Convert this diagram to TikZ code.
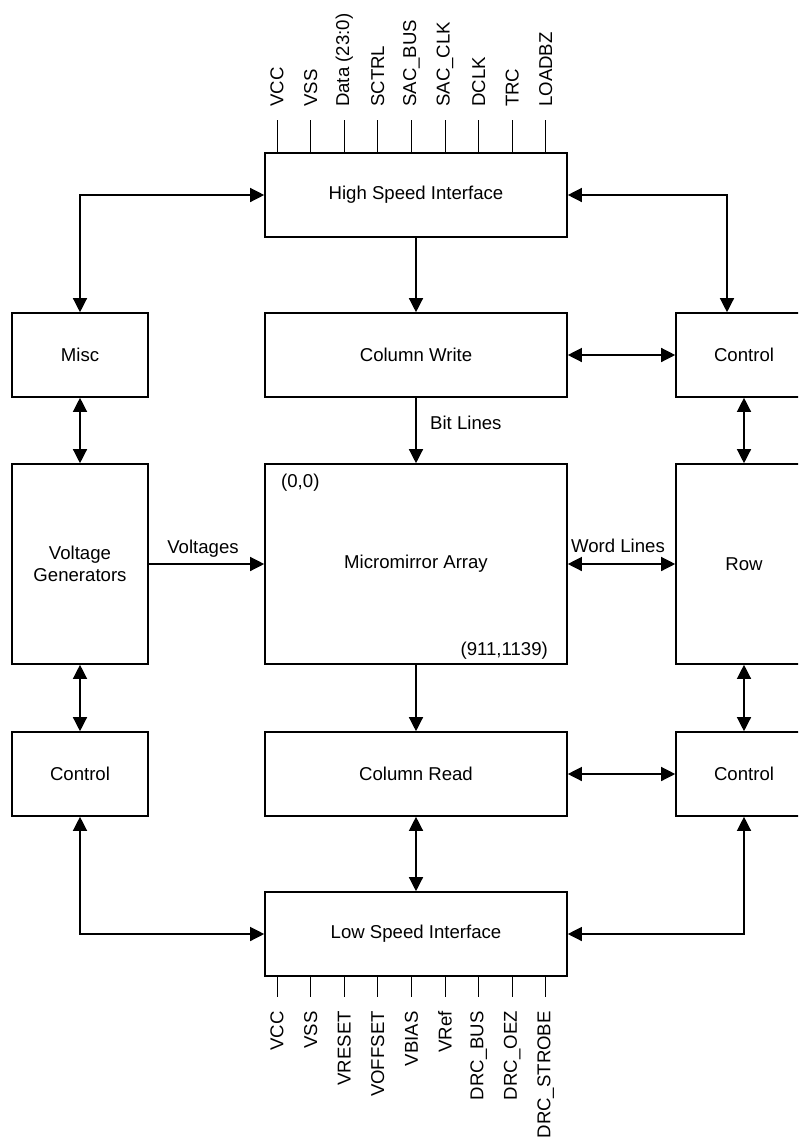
\documentclass[tikz,border=0pt]{standalone}
\usepackage{fontspec}
\setmainfont{Liberation Sans}
\usetikzlibrary{arrows.meta,calc}
\begin{document}
\begin{tikzpicture}[x=1pt,y=1pt,
  every node/.style={font=\fontsize{18.6pt}{22.3pt}\selectfont},
  box/.style={draw, line width=1.6pt, minimum width=302pt, minimum height=84pt, inner sep=0pt, align=center},
  sbox/.style={draw, line width=1.6pt, minimum width=136pt, minimum height=84pt, inner sep=0pt, align=center},
  conn/.style={line width=1.3pt},
  pinline/.style={line width=0.9pt},
  pinlbl/.style={rotate=90, inner sep=0pt},
  lbl/.style={inner sep=0pt},
  >={Triangle[length=14pt,width=14pt]}
]
\useasboundingbox (0,0) rectangle (798,-1138);
\clip (0,0) rectangle (798,-1138);

% main column
\node[box] (hsi) at (416,-195) {High Speed Interface};
\node[box] (cw) at (416,-355) {Column Write};
\node[box, minimum height=200pt] (ma) at (416,-564) {Micromirror Array};
\node[box] (cr) at (416,-774) {Column Read};
\node[box] (lsi) at (416,-934) {Low Speed Interface};
% left column
\node[sbox] (misc) at (80,-355) {Misc};
\node[sbox, minimum height=200pt] (vg) at (80,-564) {Voltage\\Generators};
\node[sbox] (cl) at (80,-774) {Control};
% right column
\node[sbox] (crt) at (744,-355) {Control};
\node[sbox, minimum height=200pt] (row) at (744,-564) {Row};
\node[sbox] (crb) at (744,-774) {Control};

% connectors
\draw[conn,<->] (hsi.west) -| (misc.north);
\coordinate (crtin) at ($(crt.north)+(-17,0)$);
\draw[conn,<->] (hsi.east) -| (crtin);
\draw[conn,->] (hsi) -- (cw);
\draw[conn,<->] (cw) -- (crt);
\draw[conn,->] (cw) -- (ma);
\draw[conn,<->] (misc) -- (vg);
\draw[conn,->] (vg) -- (ma);
\draw[conn,<->] (ma) -- (row);
\draw[conn,<->] (crt) -- (row);
\draw[conn,->] (ma) -- (cr);
\draw[conn,<->] (vg) -- (cl);
\draw[conn,<->] (row) -- (crb);
\draw[conn,<->] (cr) -- (crb);
\draw[conn,<->] (cr) -- (lsi);
\draw[conn,<->] (cl.south) |- (lsi.west);
\draw[conn,<->] (crb.south) |- (lsi.east);

% labels
\node[lbl, anchor=base west] (bitl) at (430,-429) {Bit Lines};
\node[lbl, anchor=base] (volt) at (203,-553) {Voltages};
\node[lbl, anchor=base] (wordl) at (618,-552) {Word Lines};
\node[lbl, anchor=base west] (orig) at (281,-487) {(0,0)};
\node[lbl, anchor=base east] (endc) at (548,-655) {(911,1139)};

% top pins
\foreach \n [count=\i from 0] in {VCC,VSS,Data (23:0),SCTRL,SAC\_BUS,SAC\_CLK,DCLK,TRC,LOADBZ}{
  \coordinate (tpa\i) at (277+33.6*\i,-153);
  \coordinate (tpb\i) at (277+33.6*\i,-120);
  \draw[pinline] (tpa\i) -- (tpb\i);
  \node[pinlbl, anchor=west] (tl\i) at (277+33.6*\i,-107) {\n};
}
% bottom pins
\foreach \n [count=\i from 0] in {VCC,VSS,VRESET,VOFFSET,VBIAS,VRef,DRC\_BUS,DRC\_OEZ,DRC\_STROBE}{
  \coordinate (bpa\i) at (277+33.6*\i,-976);
  \coordinate (bpb\i) at (277+33.6*\i,-997);
  \draw[pinline] (bpa\i) -- (bpb\i);
  \node[pinlbl, anchor=east] (bl\i) at (277+33.6*\i,-1011) {\n};
}
\end{tikzpicture}
\end{document}
